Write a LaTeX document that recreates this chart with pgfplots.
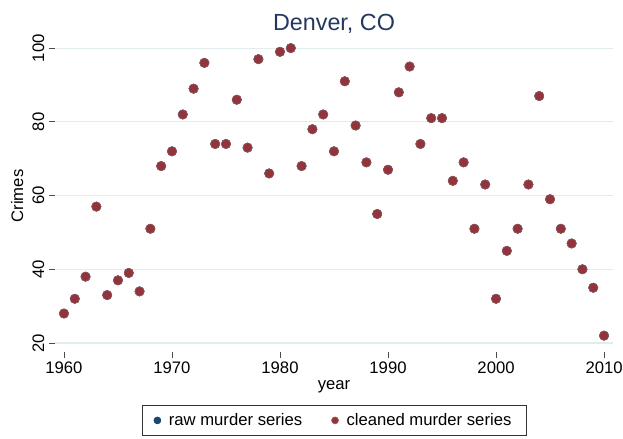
\documentclass[border=0pt]{standalone}
\usepackage{pgfplots}
\pgfplotsset{compat=1.18}
\usepackage{fontspec}
\setmainfont{Liberation Sans}

\definecolor{stnavy}{RGB}{26,71,111}
\definecolor{stmaroon}{RGB}{144,53,59}
\definecolor{stgrid}{RGB}{226,236,239}
\definecolor{sttitle}{RGB}{35,55,95}

\pgfplotstableread{
year crimes
1960 28
1961 32
1962 38
1963 57
1964 33
1965 37
1966 39
1967 34
1968 51
1969 68
1970 72
1971 82
1972 89
1973 96
1974 74
1975 74
1976 86
1977 73
1978 97
1979 66
1980 99
1981 100
1982 68
1983 78
1984 82
1985 72
1986 91
1987 79
1988 69
1989 55
1990 67
1991 88
1992 95
1993 74
1994 81
1995 81
1996 64
1997 69
1998 51
1999 63
2000 32
2001 45
2002 51
2003 63
2004 87
2005 59
2006 51
2007 47
2008 40
2009 35
2010 22
}\raw

\pgfplotstableread{
year crimes
1960 28
1961 32
1962 38
1963 57
1964 33
1965 37
1966 39
1967 34
1968 51
1969 68
1970 72
1971 82
1972 89
1973 96
1974 74
1975 74
1976 86
1977 73
1978 97
1979 66
1980 99
1981 100
1982 68
1983 78
1984 82
1985 72
1986 91
1987 79
1988 69
1989 55
1990 67
1991 88
1992 95
1993 74
1994 81
1995 81
1996 64
1997 69
1998 51
1999 63
2000 32
2001 45
2002 51
2003 63
2004 87
2005 59
2006 51
2007 47
2008 40
2009 35
2010 22
}\cleaned

\begin{document}
\begin{tikzpicture}
\path[use as bounding box] (-41.25pt,-64.5pt) rectangle (426pt,264pt);
\begin{axis}[
    scale only axis,
    width=418.5pt, height=234pt,
    xmin=1959.17, xmax=2010.83,
    ymin=17.56, ymax=102.2,
    axis line style={draw=none},
    tick pos=left,
    tick align=outside,
    major tick length=4.5pt,
    tick style={black!70, line width=0.6pt},
    xtick={1960,1970,...,2010},
    ytick={20,40,...,100},
    ymajorgrids,
    grid style={stgrid, line width=0.8pt},
    /pgf/number format/assume math mode=true,
    /pgf/number format/1000 sep={},
    ticklabel style={font=\fontsize{12.5pt}{14pt}\selectfont},
    yticklabel style={rotate=90, anchor=south},
    xticklabel style={yshift=1pt},
    xlabel={year},
    ylabel={Crimes},
    label style={font=\fontsize{12.5pt}{14pt}\selectfont},
    xlabel style={yshift=1pt},
    ylabel style={yshift=0pt},
    title={Denver, CO},
    title style={font=\fontsize{17.5pt}{20pt}\selectfont, text=sttitle, yshift=-5pt},
    legend columns=2,
    legend style={at={(0.5,-0.17)}, anchor=north, draw=black!80, line width=0.5pt,
        font=\fontsize{12.5pt}{14pt}\selectfont,
        /tikz/every odd column/.append style={column sep=4pt},
        /tikz/every even column/.append style={column sep=20pt},
        inner xsep=9pt, inner ysep=4pt},
    legend image post style={mark size=2.6pt},
    legend cell align=left,
    clip=false
]
\addplot[only marks, mark=*, mark size=3.5pt, color=stnavy] table[x=year,y=crimes] {\raw};
\addplot[only marks, mark=*, mark size=3.5pt, color=stmaroon, mark options={draw=stmaroon!85!white}] table[x=year,y=crimes] {\cleaned};
\legend{raw murder series, cleaned murder series}
\end{axis}
\end{tikzpicture}
\end{document}
